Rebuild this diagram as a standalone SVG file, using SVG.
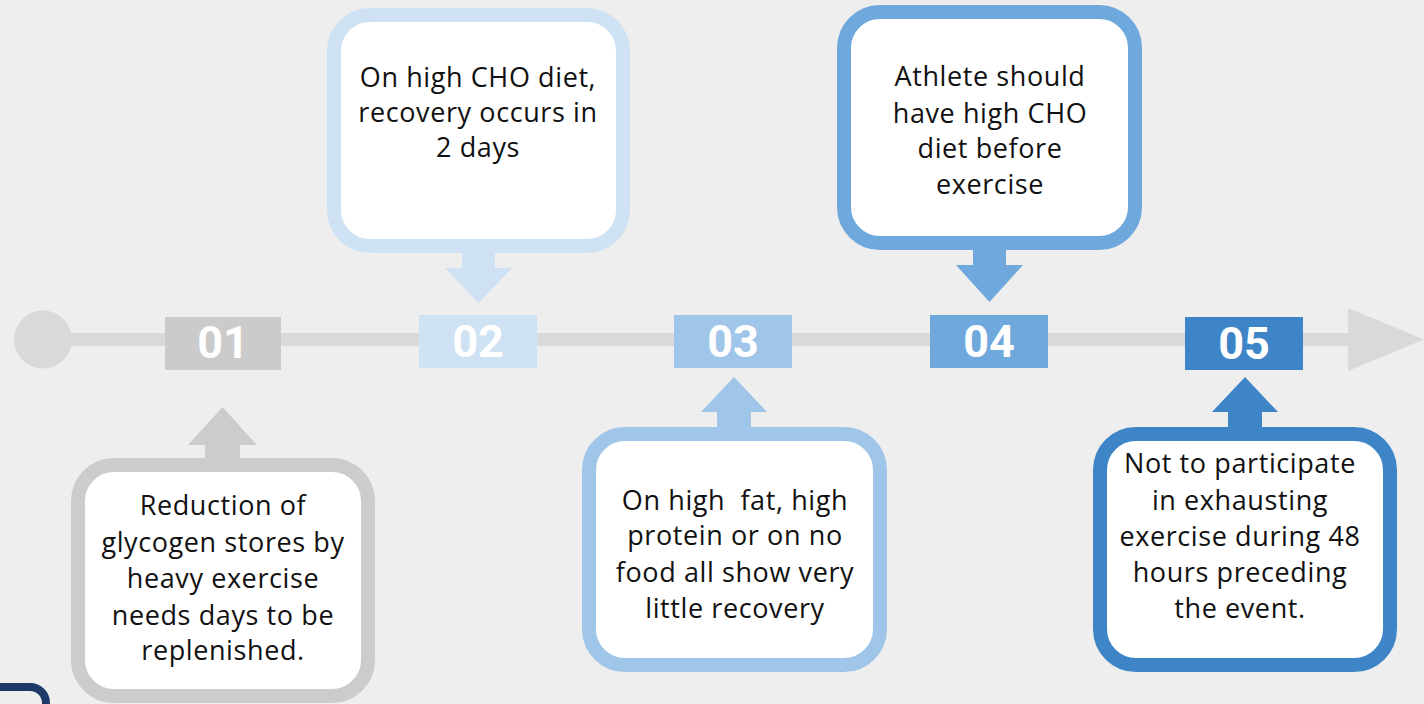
<svg xmlns="http://www.w3.org/2000/svg" width="1424" height="704" viewBox="0 0 1424 704">
<style>
.card{fill:#ffffff;stroke-width:14}
.txt{font-family:"Open Sans","Liberation Sans",sans-serif;font-size:27px;letter-spacing:0.6px;fill:#111111;text-anchor:middle}
.num{font-family:Roboto,"Liberation Sans",sans-serif;font-weight:700;font-size:45px;fill:#ffffff;text-anchor:middle}
</style>
<rect x="0" y="0" width="1424" height="704" fill="#eeeeee"/>
<g id="timeline">
<rect x="40" y="333" width="1320" height="13" fill="#d9d9d9"/>
<circle cx="43" cy="339.5" r="29" fill="#d9d9d9"/>
<polygon points="1348,308 1424,339.5 1348,371" fill="#d9d9d9"/>
</g>
<g id="connectors">
<polygon points="462,246 495,246 495,268 512,268 478.5,303 445,268 462,268" fill="#cfe2f3"/>
<polygon points="973,243 1006,243 1006,265 1023,265 989.5,302 956,265 973,265" fill="#6fa8dc"/>
<polygon points="205,466 240,466 240,445 257,445 222.5,407 188,445 205,445" fill="#cccccc"/>
<polygon points="717,435 751,435 751,412 767,412 734,377 701,412 717,412" fill="#9fc5e8"/>
<polygon points="1228,435 1262,435 1262,412 1278,412 1245,377 1212,412 1228,412" fill="#3d85c6"/>
</g>
<g id="step01">
<rect x="165" y="317" width="116" height="53" fill="#cbcbcb"/>
<text class="num" x="223" y="358">01</text>
</g>
<g id="step02">
<rect x="419" y="315" width="118" height="53" fill="#cfe2f3"/>
<text class="num" x="478" y="356.5">02</text>
</g>
<g id="step03">
<rect x="674" y="315" width="118" height="53" fill="#9fc5e8"/>
<text class="num" x="733" y="356.5">03</text>
</g>
<g id="step04">
<rect x="930" y="315" width="118" height="53" fill="#6fa8dc"/>
<text class="num" x="989" y="356.5">04</text>
</g>
<g id="step05">
<rect x="1185" y="317" width="118" height="53" fill="#3d85c6"/>
<text class="num" x="1244" y="358.5">05</text>
</g>
<g id="card01">
<rect class="card" x="78" y="465" width="290" height="231" rx="36" stroke="#cccccc"/>
<text class="txt" x="223" y="515">Reduction of</text>
<text class="txt" x="223" y="552">glycogen stores by</text>
<text class="txt" x="223" y="588">heavy exercise</text>
<text class="txt" x="223" y="625">needs days to be</text>
<text class="txt" x="223" y="660">replenished.</text>
</g>
<g id="card02">
<rect class="card" x="334" y="15" width="289" height="231" rx="36" stroke="#cfe2f3"/>
<text class="txt" x="478" y="87">On high CHO diet,</text>
<text class="txt" x="478" y="122">recovery occurs in</text>
<text class="txt" x="478" y="157">2 days</text>
</g>
<g id="card03">
<rect class="card" x="589" y="434" width="291" height="231" rx="36" stroke="#9fc5e8"/>
<text class="txt" x="735" y="510" xml:space="preserve">On high  fat, high</text>
<text class="txt" x="735" y="545">protein or on no</text>
<text class="txt" x="735" y="582">food all show very</text>
<text class="txt" x="735" y="618">little recovery</text>
</g>
<g id="card04">
<rect class="card" x="844" y="12" width="291" height="231" rx="36" stroke="#6fa8dc"/>
<text class="txt" x="990" y="86">Athlete should</text>
<text class="txt" x="990" y="123">have high CHO</text>
<text class="txt" x="990" y="158">diet before</text>
<text class="txt" x="990" y="194">exercise</text>
</g>
<g id="card05">
<rect class="card" x="1100" y="434" width="290" height="231" rx="36" stroke="#3d85c6"/>
<text class="txt" x="1240" y="473">Not to participate</text>
<text class="txt" x="1240" y="510">in exhausting</text>
<text class="txt" x="1240" y="546">exercise during 48</text>
<text class="txt" x="1240" y="582">hours preceding</text>
<text class="txt" x="1240" y="618">the event.</text>
</g>
<g id="corner-mark">
<path d="M0,687 H30 A16,16 0 0 1 46,703 V712" fill="none" stroke="#1f3a68" stroke-width="8"/>
</g>
</svg>
